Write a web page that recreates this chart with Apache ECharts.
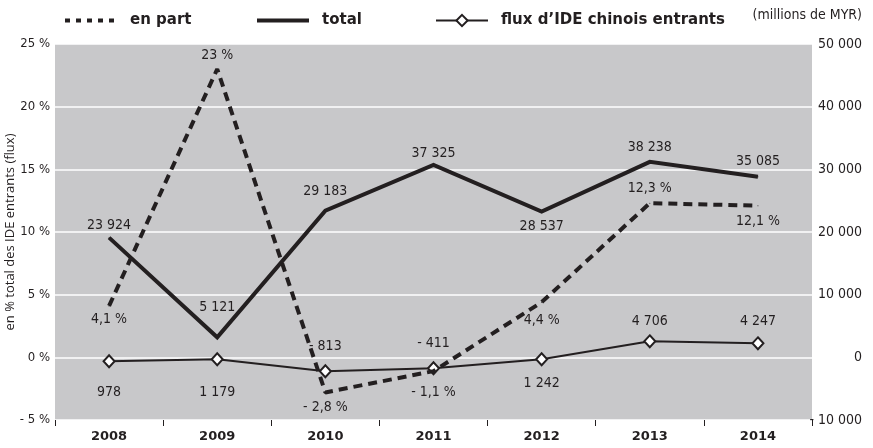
<!DOCTYPE html>
<html>
<head>
<meta charset="utf-8">
<script src="https://cdn.jsdelivr.net/npm/echarts@6/dist/echarts.min.js"></script>
<style>
  html, body { margin: 0; padding: 0; background: #fff; }
  #chart { width: 873px; height: 448px; }
</style>
</head>
<body>
<div id="chart"></div>
<script>
// catégories
const years = ['2008', '2009', '2010', '2011', '2012', '2013', '2014'];

// en part (% du total des IDE entrants)
const enPart = [4.1, 23, -2.8, -1.1, 4.4, 12.3, 12.1];
const enPartLabels = ['4,1 %', '23 %', '- 2,8 %', '- 1,1 %', '4,4 %', '12,3 %', '12,1 %'];

// total : hauteurs (axe de droite), étiquettes publiées
const totalPlotted = [19100, 3200, 23400, 30700, 23250, 31200, 28800];
const totalLabels = ['23 924', '5 121', '29 183', '37 325', '28 537', '38 238', '35 085'];

// flux d'IDE chinois entrants : hauteurs, étiquettes publiées
const fluxPlotted = [-640, -320, -2230, -1750, -320, 2550, 2230];
const fluxLabels = ['978', '1 179', '- 813', '- 411', '1 242', '4 706', '4 247'];

// graduations
const leftTicks = ['- 5 %', '0 %', '5 %', '10 %', '15 %', '20 %', '25 %'];
const rightTicks = ['- 10 000', '0', '10 000', '20 000', '30 000', '40 000', '50 000'];

const INK = '#231f20';
const NARROW = '"Liberation Sans Narrow", "DejaVu Sans Condensed", sans-serif';

const chart = echarts.init(document.getElementById('chart'));

// position des étiquettes pour chaque point
const enPartPos = [['bottom', 6], ['top', 6], ['bottom', 7], ['bottom', 14], ['bottom', 11], ['top', 7], ['bottom', 8]];
const totalPos = [['top', 5], ['top', 22], ['top', 12], ['top', 4], ['bottom', 7], ['top', 7], ['top', 8]];
const fluxPos = [['bottom', 17], ['bottom', 19], ['top', 11], ['top', 11], ['bottom', 10], ['top', 6], ['top', 8]];

function build (values, pos) {
  return values.map((v, i) => ({
    value: v,
    label: { position: pos[i][0], distance: pos[i][1] }
  }))
}

const labelStyle = (labels) => ({
  show: true,
  fontFamily: NARROW,
  fontSize: 14,
  color: INK,
  formatter: (p) => labels[p.dataIndex]
})

const legendText = {
  fontFamily: 'DejaVu Sans',
  fontWeight: 'bold',
  fontSize: 15,
  color: INK,
  padding: [0, 0, 0, 8]
}

chart.setOption({
  animation: false,
  legend: [
    {
      left: 58, top: 8, itemWidth: 52, itemHeight: 14, selectedMode: false,
      textStyle: legendText,
      data: [{ name: 'en part', lineStyle: { type: [5, 6], width: 4, color: INK }, itemStyle: { opacity: 0 } }]
    },
    {
      left: 250, top: 8, itemWidth: 52, itemHeight: 14, selectedMode: false,
      textStyle: legendText,
      data: [{ name: 'total', lineStyle: { width: 4, color: INK }, itemStyle: { opacity: 0 } }]
    },
    {
      left: 430, top: 8, itemWidth: 52, itemHeight: 14, selectedMode: false,
      textStyle: legendText,
      data: [{ name: 'flux d’IDE chinois entrants' }]
    }
  ],
  graphic: [
    {
      type: 'text',
      right: 11,
      top: 8,
      style: { text: '(millions de MYR)', fontFamily: NARROW, fontSize: 14, fill: INK }
    }
  ],
  grid: {
    left: 55,
    right: 61,
    top: 44,
    bottom: 28,
    outerBoundsMode: 'none',
    containLabel: false,
    show: true,
    backgroundColor: '#c8c8ca',
    borderWidth: 0
  },
  xAxis: {
    type: 'category',
    data: years,
    boundaryGap: true,
    axisLine: { show: false, onZero: false },
    axisTick: { show: true, length: 6, lineStyle: { color: INK, width: 1 } },
    axisLabel: {
      margin: 10,
      fontFamily: 'DejaVu Sans',
      fontWeight: 'bold',
      fontSize: 13,
      color: INK
    },
    splitLine: { show: false }
  },
  yAxis: [
    {
      type: 'value',
      min: -5,
      max: 25,
      interval: 5,
      name: 'en % total des IDE entrants (flux)',
      nameLocation: 'middle',
      nameRotate: 90,
      nameGap: 38,
      nameMoveOverlap: false,
      nameTextStyle: { fontFamily: 'Open Sans', fontSize: 13, color: INK },
      axisLine: { show: false },
      axisTick: { show: false },
      axisLabel: {
        margin: 5,
        fontFamily: NARROW,
        fontSize: 13,
        color: INK,
        formatter: (v) => leftTicks[Math.round((v + 5) / 5)]
      },
      splitLine: { show: true, lineStyle: { color: '#ffffff', width: 1.5 } }
    },
    {
      type: 'value',
      min: -10000,
      max: 50000,
      interval: 10000,
      axisLine: { show: false },
      axisTick: { show: false },
      axisLabel: {
        margin: 50,
        align: 'right',
        fontFamily: NARROW,
        fontSize: 14,
        color: INK,
        formatter: (v) => rightTicks[Math.round((v + 10000) / 10000)]
      },
      splitLine: { show: false }
    }
  ],
  series: [
    {
      name: 'flux d’IDE chinois entrants',
      type: 'line',
      yAxisIndex: 1,
      symbol: 'diamond',
      symbolSize: [11, 12],
      z: 3,
      lineStyle: { color: INK, width: 2 },
      itemStyle: { color: '#ffffff', borderColor: INK, borderWidth: 2 },
      label: labelStyle(fluxLabels),
      emphasis: { disabled: true },
      data: build(fluxPlotted, fluxPos)
    },
    {
      name: 'total',
      type: 'line',
      yAxisIndex: 1,
      symbol: 'circle',
      symbolSize: 1,
      z: 4,
      lineStyle: { color: INK, width: 4, join: 'miter' },
      itemStyle: { color: INK },
      label: labelStyle(totalLabels),
      emphasis: { disabled: true },
      data: build(totalPlotted, totalPos)
    },
    {
      name: 'en part',
      type: 'line',
      yAxisIndex: 0,
      symbol: 'circle',
      symbolSize: 1,
      z: 5,
      lineStyle: { color: INK, width: 4, type: [9, 6] },
      itemStyle: { color: INK },
      label: labelStyle(enPartLabels),
      emphasis: { disabled: true },
      data: build(enPart, enPartPos)
    }
  ]
});
</script>
</body>
</html>
